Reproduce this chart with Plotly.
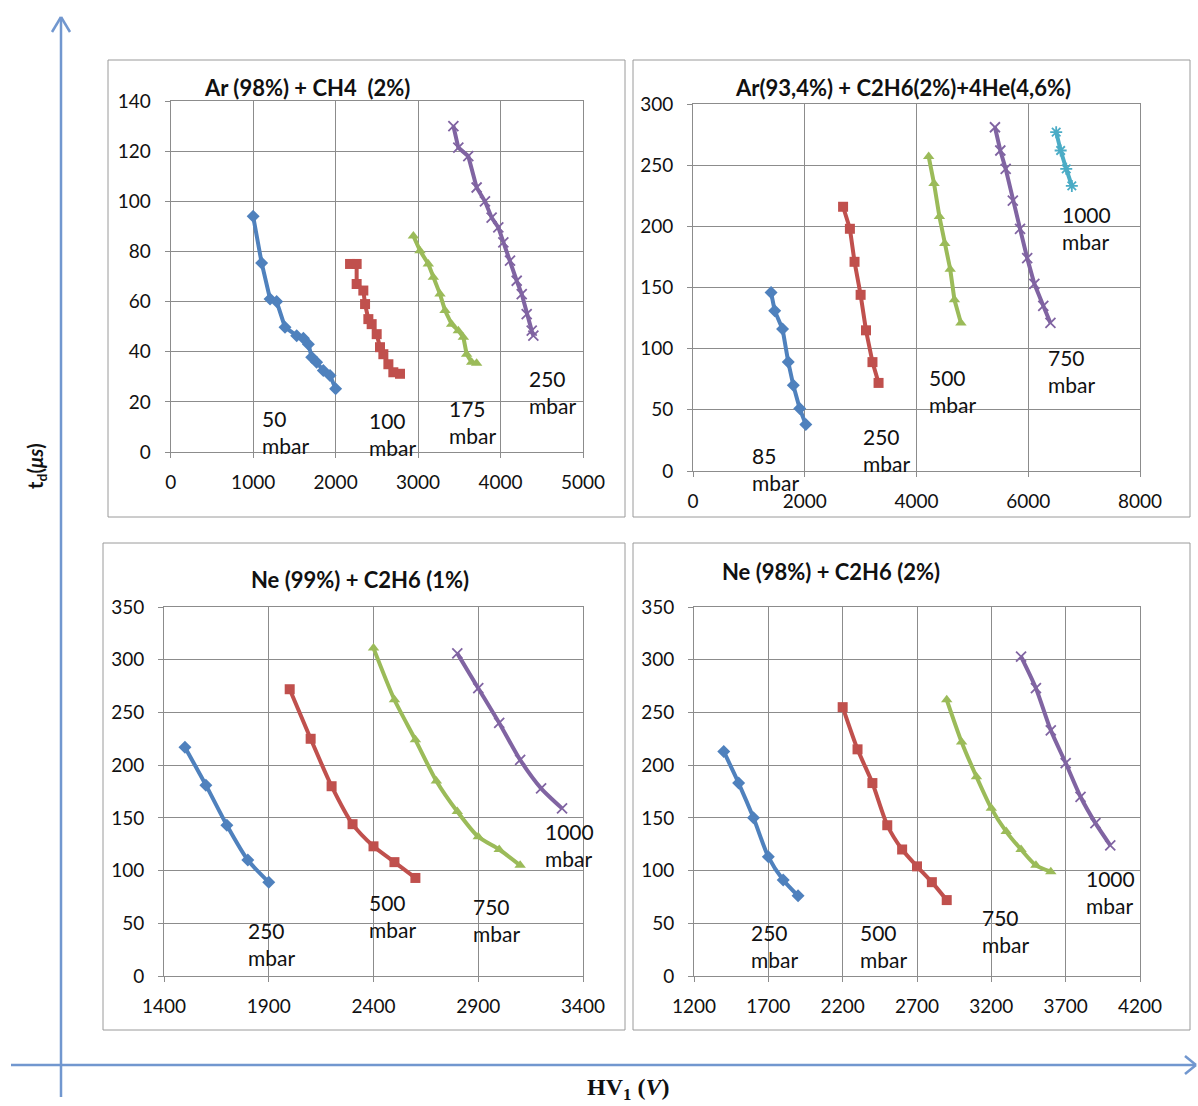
import plotly.graph_objects as go

W, H = 1198, 1106

# ---------------- data ----------------
# Panel 1: Ar (98%) + CH4 (2%)
p1_50_x = [1000, 1103, 1205, 1285, 1386, 1528, 1609, 1670, 1710, 1770, 1851, 1932, 2000]
p1_50_y = [94, 75.4, 61, 60, 49.8, 46.4, 45.4, 43, 37.8, 35.8, 32.5, 30.5, 25.2]
p1_100_x = [2175, 2255, 2255, 2336, 2357, 2397, 2437, 2498, 2538, 2579, 2640, 2700, 2781]
p1_100_y = [75, 75, 67, 64.4, 59, 53, 51, 47, 41.8, 39, 35, 31.8, 31.2]
p1_175_x = [2943, 3023, 3124, 3185, 3266, 3327, 3407, 3488, 3549, 3589, 3650, 3710]
p1_175_y = [86.2, 80.3, 75, 69.7, 63, 56.4, 51, 48.4, 45.8, 39, 35.8, 35.4]
p1_250_x = [3428, 3488, 3609, 3710, 3811, 3892, 3973, 4034, 4115, 4196, 4257, 4317, 4378, 4398]
p1_250_y = [130, 121.4, 118, 105.5, 100, 93.5, 89.6, 83.6, 76.3, 68.3, 63, 55, 48.4, 46.4]

# Panel 2: Ar(93,4%) + C2H6(2%)+4He(4,6%)
p2_85_x = [1397, 1462, 1603, 1705, 1795, 1910, 2019]
p2_85_y = [146, 131, 116, 89, 70, 51, 38]
p2_250_x = [2686, 2808, 2891, 3000, 3096, 3212, 3321]
p2_250_y = [216, 198, 171, 144, 115, 89, 72]
p2_500_x = [4218, 4314, 4410, 4506, 4603, 4679, 4795]
p2_500_y = [257, 235, 208, 186, 165, 140, 121]
p2_750_x = [5404, 5500, 5596, 5724, 5853, 5981, 6109, 6269, 6397]
p2_750_y = [281, 262, 247, 221, 198, 174, 153, 135, 121]
p2_1000_x = [6500, 6580, 6680, 6780]
p2_1000_y = [277, 262, 247, 233]

# Panel 3: Ne (99%) + C2H6 (1%)
p3_250_x = [1500, 1600, 1700, 1800, 1900]
p3_250_y = [217, 181, 143, 110, 89]
p3_500_x = [2000, 2100, 2200, 2300, 2400, 2500, 2600]
p3_500_y = [272, 225, 180, 144, 123, 108, 93]
p3_750_x = [2400, 2500, 2600, 2700, 2800, 2900, 3000, 3100]
p3_750_y = [311, 262, 224, 185, 156, 132, 120, 105]
p3_1000_x = [2800, 2900, 3000, 3100, 3200, 3300]
p3_1000_y = [306, 273, 240, 205, 178, 159]

# Panel 4: Ne (98%) + C2H6 (2%)
p4_250_x = [1400, 1500, 1600, 1700, 1800, 1900]
p4_250_y = [213, 183, 150, 113, 91, 76]
p4_500_x = [2200, 2300, 2400, 2500, 2600, 2700, 2800, 2900]
p4_500_y = [255, 215, 183, 143, 120, 104, 89, 72]
p4_750_x = [2900, 3000, 3100, 3200, 3300, 3400, 3500, 3600]
p4_750_y = [262, 222, 189, 159, 137, 120, 105, 99]
p4_1000_x = [3400, 3500, 3600, 3700, 3800, 3900, 4000]
p4_1000_y = [303, 273, 233, 202, 170, 145, 124]

titles = ["Ar (98%) + CH4  (2%)", "Ar(93,4%) + C2H6(2%)+4He(4,6%)",
          "Ne (99%) + C2H6 (1%)", "Ne (98%) + C2H6 (2%)"]

# labels: (text, x, y)
p1_labels = [("50<br>mbar", 1082, 8), ("100<br>mbar", 2375, 7),
             ("175<br>mbar", 3345, 12), ("250<br>mbar", 4315, 24)]
p2_labels = [("85<br>mbar", 1013, 2), ("250<br>mbar", 3000, 17),
             ("500<br>mbar", 4186, 65), ("750<br>mbar", 6321, 82),
             ("1000<br>mbar", 6577, 199)]
p3_labels = [("250<br>mbar", 1790, 30), ("500<br>mbar", 2367, 57),
             ("750<br>mbar", 2863, 53), ("1000<br>mbar", 3209, 124)]
p4_labels = [("250<br>mbar", 1568, 28), ("500<br>mbar", 2301, 28),
             ("750<br>mbar", 3123, 43), ("1000<br>mbar", 3820, 80)]

# ---------------- styling ----------------
BLUE, RED, GREEN, PURPLE, CYAN = "#4F81BD", "#C0504D", "#9BBB59", "#8064A2", "#4BACC6"
GRID = "#8C8C8C"
FONT = "Lato"

def px(x):
    return x / W

def py(y):
    return 1 - y / H

fig = go.Figure()

def add(xs, ys, color, symbol, ax, smooth=False):
    n = "" if ax == 1 else str(ax)
    mk = dict(symbol=symbol, size=10, color=color)
    if symbol in ("x-thin", "asterisk"):
        mk = dict(symbol=symbol, size=10, color=color, line=dict(width=1.8, color=color))
    fig.add_trace(go.Scatter(
        x=xs, y=ys, mode="lines+markers", xaxis="x" + n, yaxis="y" + n,
        line=dict(color=color, width=4, shape="spline" if smooth else "linear", smoothing=0.7),
        marker=mk, showlegend=False, hoverinfo="skip"))

add(p1_50_x, p1_50_y, BLUE, "diamond", 1)
add(p1_100_x, p1_100_y, RED, "square", 1)
add(p1_175_x, p1_175_y, GREEN, "triangle-up", 1)
add(p1_250_x, p1_250_y, PURPLE, "x-thin", 1)

add(p2_85_x, p2_85_y, BLUE, "diamond", 2)
add(p2_250_x, p2_250_y, RED, "square", 2)
add(p2_500_x, p2_500_y, GREEN, "triangle-up", 2)
add(p2_750_x, p2_750_y, PURPLE, "x-thin", 2)
add(p2_1000_x, p2_1000_y, CYAN, "asterisk", 2)

add(p3_250_x, p3_250_y, BLUE, "diamond", 3, True)
add(p3_500_x, p3_500_y, RED, "square", 3, True)
add(p3_750_x, p3_750_y, GREEN, "triangle-up", 3, True)
add(p3_1000_x, p3_1000_y, PURPLE, "x-thin", 3, True)

add(p4_250_x, p4_250_y, BLUE, "diamond", 4, True)
add(p4_500_x, p4_500_y, RED, "square", 4, True)
add(p4_750_x, p4_750_y, GREEN, "triangle-up", 4, True)
add(p4_1000_x, p4_1000_y, PURPLE, "x-thin", 4, True)


def axis(domain, rng, dtick, anchor):
    return dict(domain=domain, range=rng, tick0=rng[0], dtick=dtick, anchor=anchor,
                showgrid=True, gridcolor=GRID, gridwidth=1, showline=True,
                linecolor=GRID, linewidth=1, mirror=True, ticks="outside", ticklen=5,
                tickcolor=GRID, zeroline=False, fixedrange=True, automargin=False,
                tickfont=dict(family=FONT, size=19, color="#111"))

# plot-area pixel boxes: (left, right, bottom(zero), top)
boxes = [(170.7, 583, 452, 101), (693, 1140, 471, 104),
         (164, 583, 976, 607), (694, 1140, 976, 607)]
xr = [[0, 5000], [0, 8000], [1400, 3400], [1200, 4200]]
xd = [1000, 2000, 500, 500]
yr = [[0, 140], [0, 300], [0, 350], [0, 350]]
yd = [20, 50, 50, 50]

layout = dict(width=W, height=H, autosize=False,
              margin=dict(l=0, r=0, t=0, b=0, pad=0, autoexpand=False),
              paper_bgcolor="white", plot_bgcolor="white", showlegend=False)
for i, (l, r, b, t) in enumerate(boxes):
    n = "" if i == 0 else str(i + 1)
    xa = axis([px(l), px(r)], xr[i], xd[i], "y" + n)
    ya = axis([py(b), py(t)], yr[i], yd[i], "x" + n)
    xa["ticklabelstandoff"] = 8
    ya["ticklabelstandoff"] = 10
    layout["xaxis" + n] = xa
    layout["yaxis" + n] = ya
fig.update_layout(**layout)

# panel frames
frames = [(108, 60, 625, 517), (633, 60, 1190, 517), (103, 543, 625, 1030), (633, 543, 1190, 1030)]
for (x0, y0, x1, y1) in frames:
    fig.add_shape(type="rect", xref="paper", yref="paper", x0=px(x0), x1=px(x1),
                  y0=py(y1), y1=py(y0), line=dict(color="#9A9A9A", width=1), layer="below")

# titles
title_pos = [(307, 87), (903, 87), (360, 579), (831, 571)]
for t, (tx, ty) in zip(titles, title_pos):
    fig.add_annotation(text="<b>" + t + "</b>", xref="paper", yref="paper", x=px(tx), y=py(ty),
                       showarrow=False, xanchor="center", yanchor="middle",
                       font=dict(family=FONT, size=22, color="#111"))

# series labels
for i, labels in enumerate([p1_labels, p2_labels, p3_labels, p4_labels]):
    n = "" if i == 0 else str(i + 1)
    for text, lx, ly in labels:
        fig.add_annotation(text=text, xref="x" + n, yref="y" + n, x=lx, y=ly, showarrow=False,
                           xanchor="left", yanchor="middle", align="left",
                           font=dict(family=FONT, size=21, color="#111"))

# outer axis arrows
ARROW = "#7197CF"
def seg(x0, y0, x1, y1):
    fig.add_shape(type="line", xref="paper", yref="paper", x0=px(x0), y0=py(y0),
                  x1=px(x1), y1=py(y1), line=dict(color=ARROW, width=2.5))

seg(61, 1097, 61, 17)
seg(52, 32, 61, 17)
seg(70, 32, 61, 17)
seg(11, 1065, 1196, 1065)
seg(1185, 1056, 1196, 1065)
seg(1185, 1074, 1196, 1065)

fig.add_annotation(text="<b>t<sub>d</sub>(<i>μs</i>)</b>", xref="paper", yref="paper",
                   x=px(36), y=py(466), showarrow=False, textangle=-90,
                   xanchor="center", yanchor="middle",
                   font=dict(family=FONT, size=20, color="#111"))
fig.add_annotation(text="<b>HV<sub>1</sub> (<i>V</i>)</b>", xref="paper", yref="paper",
                   x=px(628), y=py(1089), showarrow=False,
                   xanchor="center", yanchor="middle",
                   font=dict(family="Liberation Serif", size=24, color="#111"))

fig.write_html("out.html", config={"displayModeBar": False},
               post_script="document.body.style.margin='0px';")
